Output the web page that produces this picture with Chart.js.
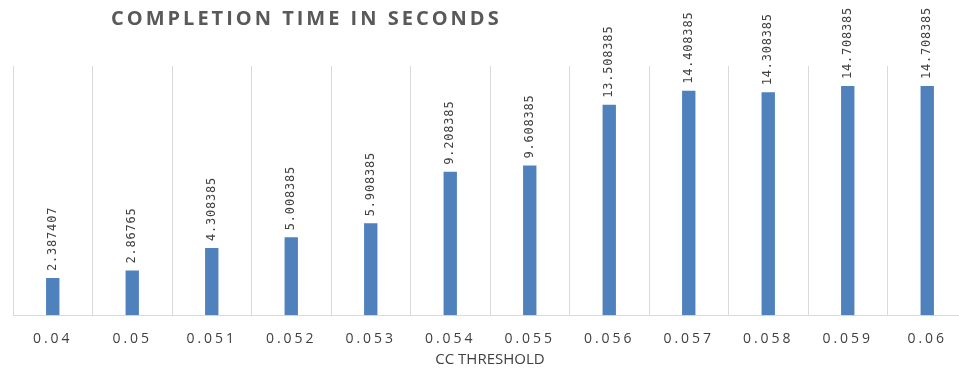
<!DOCTYPE html>
<html>
<head>
<meta charset="utf-8">
<script src="https://cdn.jsdelivr.net/npm/chart.js@4/dist/chart.umd.min.js"></script>
<style>
  html, body { margin: 0; padding: 0; background: #ffffff; overflow: hidden; }
  #wrap { position: relative; width: 959px; height: 373px; overflow: hidden; }
  #box { position: absolute; left: 0; top: 0; width: 980px; height: 373px; }
</style>
</head>
<body>
<div id="wrap"><div id="box"><canvas id="chart"></canvas></div></div>
<script>
// CC threshold categories and the measured completion times (seconds)
const thresholds = ['0.04', '0.05', '0.051', '0.052', '0.053', '0.054', '0.055', '0.056', '0.057', '0.058', '0.059', '0.06'];
const completionTimes = [2.387407, 2.86765, 4.308385, 5.008385, 5.908385, 9.208385, 9.608385, 13.508385, 14.408385, 14.308385, 14.708385, 14.708385];
const valueLabels = ['2.387407', '2.86765', '4.308385', '5.008385', '5.908385', '9.208385', '9.608385', '13.508385', '14.408385', '14.308385', '14.708385', '14.708385'];
const chartTitle = 'COMPLETION TIME IN SECONDS';
const xAxisTitle = 'CC THRESHOLD';
const yMax = 16;

// Spaced-out tick lettering, plus the title and axis caption drawn on top
const textPlugin = {
  id: 'textDecor',
  beforeDraw(chart) {
    chart.ctx.letterSpacing = '3px';
  },
  afterDatasetsDraw(chart) {
    const ctx = chart.ctx;
    const meta = chart.getDatasetMeta(0);
    ctx.save();
    ctx.letterSpacing = '0.8px';
    ctx.font = '12px "DejaVu Sans Mono"';
    ctx.fillStyle = '#404040';
    ctx.textAlign = 'left';
    ctx.textBaseline = 'middle';
    meta.data.forEach((bar, i) => {
      ctx.save();
      ctx.translate(bar.x, bar.y - 7);
      ctx.rotate(-Math.PI / 2);
      ctx.fillText(valueLabels[i], 0, 0);
      ctx.restore();
    });
    ctx.restore();
  },
  afterDraw(chart) {
    const ctx = chart.ctx;
    ctx.save();
    ctx.letterSpacing = '3px';
    ctx.font = 'bold 20px "Open Sans"';
    ctx.fillStyle = '#595959';
    ctx.textAlign = 'left';
    ctx.textBaseline = 'alphabetic';
    ctx.fillText(chartTitle, 111, 25);

    ctx.letterSpacing = '0px';
    ctx.font = '15px "Open Sans"';
    ctx.fillStyle = '#404040';
    ctx.textAlign = 'center';
    ctx.textBaseline = 'middle';
    ctx.fillText(xAxisTitle, 490, 360);
    ctx.restore();
    ctx.letterSpacing = '0px';
  }
};

new Chart(document.getElementById('chart'), {
  type: 'bar',
  data: {
    labels: thresholds,
    datasets: [{
      data: completionTimes,
      backgroundColor: '#4f81bd',
      barPercentage: 0.168,
      categoryPercentage: 1.0
    }]
  },
  options: {
    responsive: true,
    maintainAspectRatio: false,
    animation: false,
    devicePixelRatio: 1,
    layout: { padding: { left: 13, right: 13, top: 66, bottom: 11 } },
    plugins: {
      legend: { display: false },
      tooltip: { enabled: false }
    },
    scales: {
      x: {
        offset: true,
        grid: { color: '#d9d9d9', lineWidth: 1, drawTicks: false, offset: true },
        border: { color: '#d9d9d9', width: 1 },
        ticks: {
          color: '#404040',
          font: { family: '"Open Sans"', size: 14 },
          padding: 15,
          maxRotation: 0,
          autoSkip: false
        }
      },
      y: {
        display: false,
        min: 0,
        max: yMax
      }
    }
  },
  plugins: [textPlugin]
});
</script>
</body>
</html>
